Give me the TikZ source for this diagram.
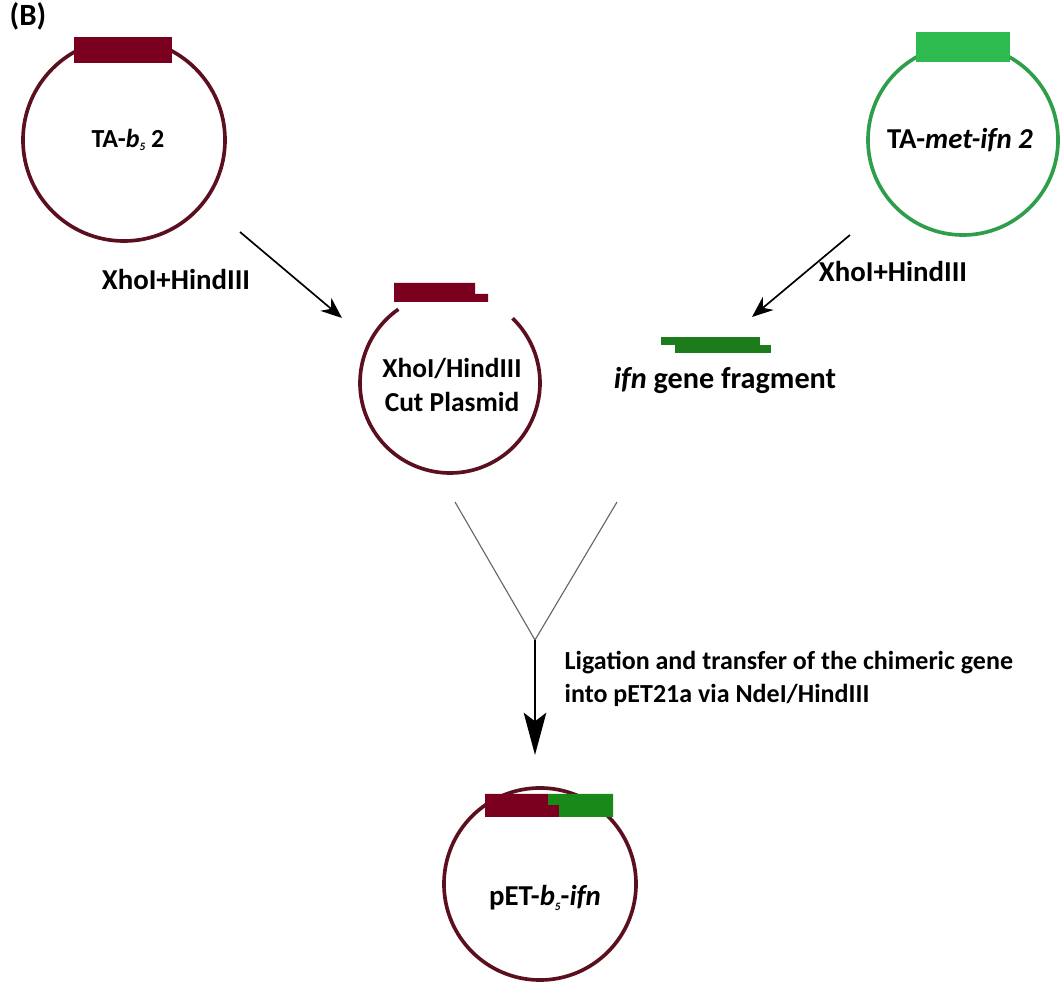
\documentclass[tikz,border=0pt]{standalone}
\usepackage{fontspec}
\setmainfont{Carlito}
\usepackage{xcolor}
\usetikzlibrary{arrows.meta}
\definecolor{maroon}{HTML}{5C0F1E}
\definecolor{redbar}{HTML}{7B0020}
\definecolor{lightgreen}{HTML}{2E9E4A}
\definecolor{greenbar}{HTML}{2DBB4F}
\definecolor{darkgreen}{HTML}{1C7C1C}
\newcommand{\bfive}{\textit{b}\raisebox{-0.3ex}{\textit{\footnotesize 5}}}
\newcommand{\fs}[1]{\fontsize{#1}{1.25\dimexpr#1pt\relax}\selectfont}

\begin{document}
\begin{tikzpicture}[x=0.025cm,y=0.025cm,font=\fs{20.5}\bfseries]
\tikzstyle{plasmid}=[circle,draw=maroon,line width=2.6pt,inner sep=0,align=center]
\tikzstyle{digest}=[draw=black,line width=1.2pt,-{Stealth[length=15pt,width=12pt]}]
\tikzstyle{label}=[inner sep=1pt,align=left]
\useasboundingbox (0,0) rectangle (1060,986);
\node[label,font=\fs{22}\bfseries] (panel) at (28,970) {(B)};
% TA-b5 2
\node[plasmid,minimum size=5.05cm] (tab) at (124,846) {};
\node[label,font=\fs{18.5}\bfseries] (tabtext) at (128,846) {TA-\bfive{} 2};
\fill[redbar] (74,923) rectangle (172,949);
% TA-met-ifn 2
\node[plasmid,draw=lightgreen,minimum size=4.75cm] (taifn) at (963,846) {};
\node[label] (taifntext) at (960,846) {TA-\textit{met-ifn 2}};
\fill[greenbar] (916,924) rectangle (1010,954);
% cut plasmid
\coordinate (cut) at (450,603);
\draw[maroon,line width=2.6pt] (cut) ++(125:90) arc[start angle=125,end angle=406,radius=90];
\node[label,align=center,font=\fs{19.5}\bfseries] (cuttext) at (452,601) {XhoI/HindIII\\Cut Plasmid};
\fill[redbar] (394,684) -- (394,703) -- (475,703) -- (475,692) -- (488,692) -- (488,684) -- cycle;
% ifn fragment
\fill[darkgreen] (661,641) rectangle (760,649);
\fill[darkgreen] (675,633) rectangle (771,641);
\node[label,font=\fs{21.5}\bfseries] (frag) at (725,606) {\textit{ifn} gene fragment};
% digestion arrows
\coordinate (s1) at (240,754);
\coordinate (e1) at (342,668);
\draw[digest] (s1) -- (e1);
\node[label] (enz1) at (176,706) {XhoI+HindIII};
\coordinate (s2) at (850,751);
\coordinate (e2) at (752,669);
\draw[digest] (s2) -- (e2);
\node[label] (enz2) at (893,714) {XhoI+HindIII};
% ligation
\coordinate (ya) at (455,484);
\coordinate (yb) at (617,484);
\coordinate (yj) at (535,346);
\coordinate (ye) at (535,231);
\draw[gray!80!black,line width=0.8pt] (ya) -- (yj) -- (yb);
\draw[black,line width=1.6pt,-{Stealth[length=30pt,width=16pt,inset=6pt]}] (yj) -- (ye);
\node[label,anchor=west,font=\fs{18.5}\bfseries] (lig) at (563,307) {Ligation and transfer of the chimeric gene\\into pET21a via NdeI/HindIII};
% pET-b5-ifn
\node[plasmid,minimum size=4.8cm] (pet) at (540,102) {};
\node[label] (pettext) at (545,88) {pET-\bfive-\textit{ifn}};
\fill[redbar] (485,169) -- (559,169) -- (559,181) -- (548,181) -- (548,192) -- (485,192) -- cycle;
\fill[darkgreen!90!green] (548,192) -- (613,192) -- (613,169) -- (559,169) -- (559,181) -- (548,181) -- cycle;
\end{tikzpicture}
\end{document}
